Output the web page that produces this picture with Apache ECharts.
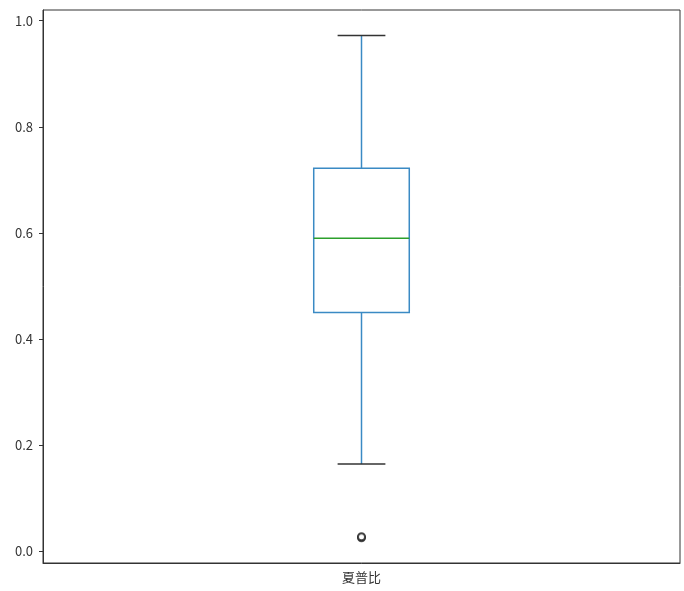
<!DOCTYPE html>
<html><head><meta charset="utf-8">
<script src="https://cdn.jsdelivr.net/npm/echarts@6/dist/echarts.min.js"></script>
<style>html,body{margin:0;padding:0;background:#fff}#c{width:684px;height:591px}</style>
</head><body><div id="c"></div>
<script>
const categories = ['夏普比'];
// [lowerWhisker, Q1, median, Q3, upperWhisker]
const boxValues = [[0.164, 0.450, 0.590, 0.722, 0.972]];
const outliers = [[0, 0.025], [0, 0.027]];
const yTicks = [0.0, 0.2, 0.4, 0.6, 0.8, 1.0];

const chart = echarts.init(document.getElementById('c'));
const font = '"Noto Sans CJK SC", "DejaVu Sans", sans-serif';
chart.setOption({
  animation: false,
  grid: {left: 43, right: 4, top: 10, bottom: 28, show: true, borderColor: '#333', borderWidth: 1, backgroundColor: '#fff'},
  xAxis: {
    type: 'category', data: categories, boundaryGap: true,
    axisLine: {onZero: false, lineStyle: {color: '#333', width: 1}},
    axisTick: {alignWithLabel: true, length: 4, lineStyle: {color: '#333'}},
    axisLabel: {color: '#333', fontSize: 13, fontFamily: font, margin: 8},
    splitLine: {show: false}
  },
  yAxis: {
    type: 'value', min: -0.0226, max: 1.0202,
    axisLine: {show: true, onZero: false, lineStyle: {color: '#333', width: 1}},
    axisTick: {show: true, length: 4, lineStyle: {color: '#333'},
      customValues: yTicks},
    axisLabel: {color: '#333', fontSize: 13, fontFamily: font, margin: 10,
      customValues: yTicks, formatter: v => v.toFixed(1)},
    splitLine: {show: false}
  },
  series: [
    {
      type: 'custom',
      data: boxValues.map((b, i) => [i].concat(b)),
      encode: {x: 0, y: [1, 2, 3, 4, 5]},
      renderItem: function (params, api) {
        const i = api.value(0);
        const band = api.size([1, 0])[0];
        const bw = band * 0.15;
        const cw = bw / 2;
        const p = [1, 2, 3, 4, 5].map(k => api.coord([i, api.value(k)]));
        const x = p[0][0];
        const blue = {stroke: '#3a8ac4', lineWidth: 1.5, fill: null};
        const black = {stroke: '#333', lineWidth: 1.5};
        return {
          type: 'group',
          children: [
            {type: 'line', shape: {x1: x, y1: p[1][1], x2: x, y2: p[0][1]}, style: blue},
            {type: 'line', shape: {x1: x, y1: p[3][1], x2: x, y2: p[4][1]}, style: blue},
            {type: 'rect', shape: {x: x - bw / 2, y: p[3][1], width: bw, height: p[1][1] - p[3][1]}, style: blue},
            {type: 'line', shape: {x1: x - bw / 2, y1: p[2][1], x2: x + bw / 2, y2: p[2][1]}, style: {stroke: '#2ca02c', lineWidth: 1.5}},
            {type: 'line', shape: {x1: x - cw / 2, y1: p[0][1], x2: x + cw / 2, y2: p[0][1]}, style: black},
            {type: 'line', shape: {x1: x - cw / 2, y1: p[4][1], x2: x + cw / 2, y2: p[4][1]}, style: black}
          ]
        };
      }
    },
    {
      type: 'scatter', data: outliers, symbol: 'circle', symbolSize: 7,
      itemStyle: {color: '#fff', borderColor: '#222', borderWidth: 2}
    }
  ]
});
</script></body></html>
